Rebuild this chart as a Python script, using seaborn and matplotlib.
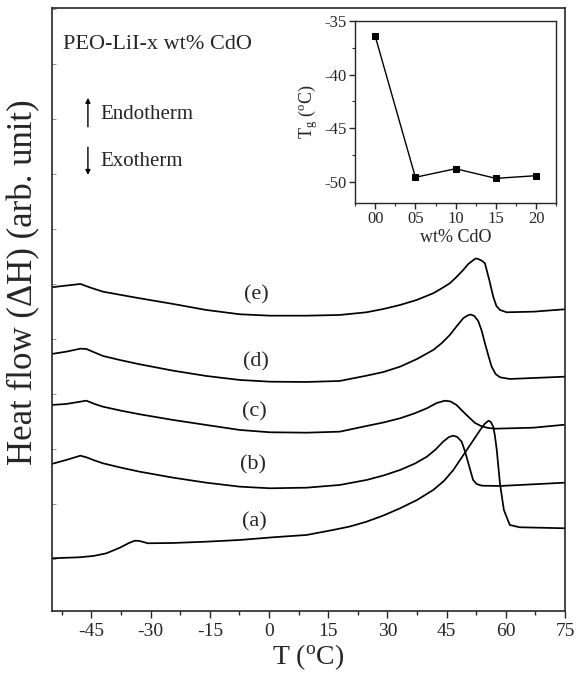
import matplotlib
matplotlib.use("Agg")
import matplotlib.pyplot as plt
import seaborn as sns
import pandas as pd
from matplotlib.ticker import MultipleLocator, NullFormatter

# DSC curves (T in degC, heat flow in arb. units)
T_a = [-55.1, -48.0, -44.5, -41.2, -37.8, -35.5, -34.0, -32.8, -30.7, -24.3, -15.9, -7.4, 1.0,
       9.5, 16.2, 20.5, 24.7, 29.0, 33.2, 37.5, 41.6, 44.3, 46.7, 50.1, 53.5, 54.6, 55.6, 56.2,
       56.8, 57.2, 57.7, 58.5, 59.5, 61.0, 63.5, 75.0]
hf_a = [0.557, 0.567, 0.58, 0.607, 0.663, 0.71, 0.733, 0.73, 0.707, 0.71, 0.723, 0.74, 0.767,
        0.79, 0.84, 0.875, 0.923, 0.985, 1.057, 1.14, 1.24, 1.33, 1.44, 1.64, 1.84, 1.90, 1.933,
        1.92, 1.873, 1.79, 1.64, 1.307, 1.04, 0.89, 0.867, 0.857]

T_b = [-55.1, -51.4, -47.8, -46.3, -44.2, -42.1, -37.5, -32.8, -24.3, -15.9, -7.4, 0.2, 9.5,
       17.9, 24.7, 29.0, 33.2, 37.0, 40.0, 42.2, 44.1, 45.6, 46.7, 47.7, 48.8, 49.7, 50.5, 51.7,
       52.6, 53.9, 58.5, 75.0]
hf_b = [1.50, 1.54, 1.583, 1.567, 1.535, 1.507, 1.463, 1.423, 1.363, 1.313, 1.273, 1.257, 1.263,
        1.29, 1.34, 1.385, 1.44, 1.505, 1.573, 1.645, 1.723, 1.77, 1.783, 1.77, 1.723, 1.62, 1.507,
        1.34, 1.30, 1.283, 1.28, 1.313]

T_c = [-55.1, -51.4, -46.3, -44.2, -42.1, -37.5, -32.8, -24.3, -15.9, -7.4, 0.2, 9.5, 17.9,
       24.7, 29.0, 33.2, 36.8, 40.0, 42.5, 44.6, 46.0, 47.5, 49.0, 50.7, 52.2, 53.7, 55.5, 57.3,
       67.0, 75.0]
hf_c = [2.09, 2.10, 2.133, 2.10, 2.073, 2.033, 1.997, 1.94, 1.89, 1.84, 1.817, 1.813, 1.823,
        1.88, 1.915, 1.957, 2.005, 2.057, 2.11, 2.133, 2.125, 2.09, 2.03, 1.965, 1.91, 1.88, 1.86,
        1.853, 1.863, 1.893]

T_d = [-55.1, -51.4, -47.8, -46.3, -44.2, -42.1, -37.5, -32.8, -24.3, -15.9, -7.4, 0.2, 9.5,
       17.9, 24.7, 29.0, 33.2, 37.5, 41.6, 43.8, 45.8, 47.6, 49.2, 50.3, 51.1, 52.0, 53.0, 53.9,
       54.7, 55.6, 56.4, 57.4, 58.5, 61.0, 75.0]
hf_d = [2.60, 2.623, 2.653, 2.65, 2.615, 2.58, 2.537, 2.497, 2.433, 2.38, 2.34, 2.323, 2.32,
        2.33, 2.383, 2.42, 2.473, 2.55, 2.64, 2.71, 2.79, 2.88, 2.957, 2.985, 2.995, 2.98, 2.93,
        2.83, 2.707, 2.58, 2.473, 2.40, 2.367, 2.35, 2.373]

T_e = [-55.1, -47.8, -45.0, -42.1, -37.5, -32.8, -24.3, -15.9, -7.4, 0.2, 9.5, 17.9, 24.7,
       29.0, 33.2, 37.4, 41.6, 43.7, 45.8, 47.5, 49.2, 50.5, 51.8, 52.4, 53.0, 54.0, 54.7, 55.8,
       56.8, 57.6, 58.5, 60.2, 67.0, 75.0]
hf_e = [3.267, 3.30, 3.26, 3.223, 3.19, 3.157, 3.10, 3.04, 2.997, 2.983, 2.983, 2.99, 3.017,
        3.05, 3.09, 3.14, 3.207, 3.255, 3.307, 3.37, 3.44, 3.50, 3.54, 3.555, 3.55, 3.53, 3.507,
        3.34, 3.173, 3.08, 3.04, 3.017, 3.023, 3.047]

curve_names = ["(a)", "(b)", "(c)", "(d)", "(e)"]
label_T = [-3.6, -4.0, -3.6, -3.3, -3.3]
label_hf = [0.92, 1.49, 2.02, 2.52, 3.19]

# inset: glass transition temperature vs CdO content
cdo_wt = [0, 5, 10, 15, 20]
cdo_ticklabels = ["00", "05", "10", "15", "20"]
tg = [-36.4, -49.6, -48.8, -49.7, -49.45]

sns.set_style("ticks")
plt.rcParams["font.family"] = ["Liberation Serif", "DejaVu Serif"]
plt.rcParams["mathtext.fontset"] = "stix"
plt.rcParams["axes.unicode_minus"] = False

fig = plt.figure(figsize=(5.83, 6.8), dpi=100)
ax = fig.add_axes([0.0892, 0.1015, 0.880, 0.8868])

curves = [(T_a, hf_a), (T_b, hf_b), (T_c, hf_c), (T_d, hf_d), (T_e, hf_e)]
for tt, hh in curves:
    df = pd.DataFrame({"T": tt, "hf": hh})
    sns.lineplot(data=df, x="T", y="hf", ax=ax, color="black", lw=1.25,
                 sort=False, estimator=None)

for name, lx, ly in zip(curve_names, label_T, label_hf):
    ax.text(lx, ly, name, fontsize=16, ha="center", va="center")

ax.set_xlim(-55, 75)
ax.set_ylim(0.03, 6.06)
ax.xaxis.set_major_locator(MultipleLocator(15))
ax.xaxis.set_minor_locator(MultipleLocator(7.5))
ax.yaxis.set_major_locator(MultipleLocator(0.55))
ax.yaxis.set_major_formatter(NullFormatter())
ax.tick_params(axis="x", which="major", direction="out", length=5, width=1, labelsize=14)
ax.tick_params(axis="x", which="minor", direction="out", length=3, width=1)
ax.tick_params(axis="y", which="major", direction="in", length=3, width=0.6, color="0.5")
for s in ax.spines.values():
    s.set_linewidth(1.2)
ax.set_xlabel(r"T ($\mathregular{^o}$C)", fontsize=20, labelpad=2)
ax.set_ylabel("Heat flow (ΔH) (arb. unit)", fontsize=25)
ax.yaxis.set_label_coords(-0.022, 0.546)

ax.text(0.021, 0.939, "PEO-LiI-x wt% CdO", transform=ax.transAxes, fontsize=16,
        ha="left", va="center")
ax.text(0.094, 0.823, "Endotherm", transform=ax.transAxes, fontsize=15,
        ha="left", va="center")
ax.text(0.094, 0.746, "Exotherm", transform=ax.transAxes, fontsize=15,
        ha="left", va="center")
arrow = dict(arrowstyle="-|>", lw=1, color="black", mutation_scale=7, shrinkA=0, shrinkB=0)
ax.annotate("", xy=(0.070, 0.851), xytext=(0.070, 0.803), xycoords="axes fraction",
            arrowprops=arrow)
ax.annotate("", xy=(0.070, 0.723), xytext=(0.070, 0.769), xycoords="axes fraction",
            arrowprops=arrow)

# inset
ins = fig.add_axes([0.609, 0.7015, 0.345, 0.2676])
sns.lineplot(x=cdo_wt, y=tg, ax=ins, color="black", lw=1, marker="s", markersize=5,
             markeredgecolor="black")
ins.set_xlim(-2.5, 22.5)
ins.set_ylim(-52, -35)
ins.set_xticks(cdo_wt)
ins.set_xticklabels(cdo_ticklabels)
ins.xaxis.set_minor_locator(MultipleLocator(2.5))
ins.yaxis.set_major_locator(MultipleLocator(5))
ins.yaxis.set_minor_locator(MultipleLocator(2.5))
ins.tick_params(which="major", direction="out", length=4, width=1, labelsize=12, pad=2)
ins.tick_params(which="minor", direction="out", length=2, width=0.8)
for s in ins.spines.values():
    s.set_linewidth(1)
ins.set_xlabel("wt% CdO", fontsize=13, labelpad=1)
ins.set_ylabel(r"T$\mathregular{_g}$ ($\mathregular{^o}$C)", fontsize=13, labelpad=3)

fig.savefig("out.png", dpi=100)
